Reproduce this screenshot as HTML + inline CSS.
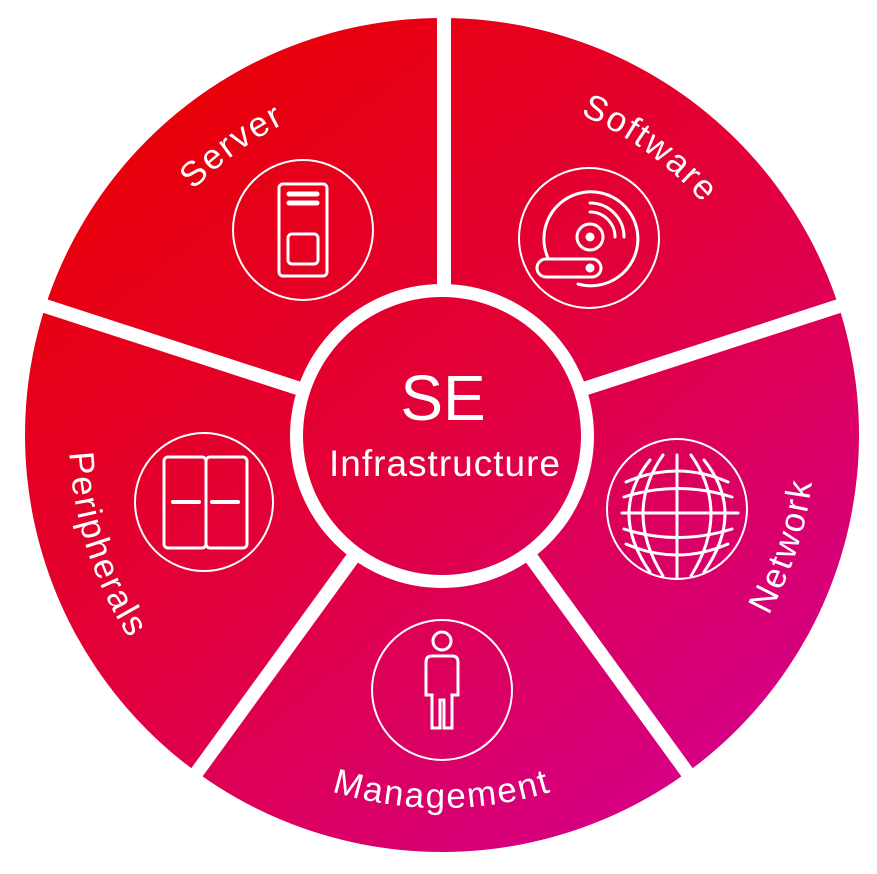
<!DOCTYPE html>
<html><head><meta charset="utf-8"><style>
html,body{margin:0;padding:0;background:#fff;width:877px;height:874px;overflow:hidden}
svg{display:block}
text{font-family:"Liberation Sans",sans-serif;fill:#fff}
</style></head><body>
<svg width="877" height="874" viewBox="0 0 877 874">
<defs>
<linearGradient id="g" gradientUnits="userSpaceOnUse" x1="180" y1="120" x2="720" y2="800">
<stop offset="0" stop-color="#e8000b"/>
<stop offset="0.45" stop-color="#e2003a"/>
<stop offset="1" stop-color="#d4008a"/>
</linearGradient>
<path id="cw" d="M791,435 A349,349 0 1 1 93,435 A349,349 0 1 1 791,435"/>
<path id="ccw" d="M815,435 A373,373 0 1 0 69,435 A373,373 0 1 0 815,435"/>
</defs>
<circle cx="442" cy="435" r="417" fill="url(#g)"/>
<g stroke="#fff" stroke-width="14">
<line x1="444" y1="435" x2="444" y2="0"/>
<line x1="442" y1="435" x2="442" y2="0" transform="rotate(72 442 435)"/>
<line x1="442" y1="435" x2="442" y2="0" transform="rotate(144 442 435)"/>
<line x1="442" y1="435" x2="442" y2="0" transform="rotate(216 442 435)"/>
<line x1="442" y1="435" x2="442" y2="0" transform="rotate(288 442 435)"/>
</g>
<circle cx="442" cy="436" r="152" fill="#fff"/>
<circle cx="442" cy="436" r="139" fill="url(#g)"/>
<text x="443" y="420" font-size="64" text-anchor="middle">SE</text>
<text x="445" y="476" font-size="37" text-anchor="middle" letter-spacing="1">Infrastructure</text>

<text font-size="35" letter-spacing="2"><textPath href="#cw" startOffset="65%" text-anchor="middle">Server</textPath></text>
<text font-size="35" letter-spacing="2"><textPath href="#cw" startOffset="85%" text-anchor="middle">Software</textPath></text>
<text font-size="35" letter-spacing="2"><textPath href="#ccw" startOffset="95%" text-anchor="middle">Network</textPath></text>
<text font-size="35" letter-spacing="2"><textPath href="#ccw" startOffset="75%" text-anchor="middle">Management</textPath></text>
<text font-size="35" letter-spacing="2"><textPath href="#ccw" startOffset="55%" text-anchor="middle">Peripherals</textPath></text>

<g fill="none" stroke="#fff" stroke-width="2">
<circle cx="303" cy="230" r="70"/>
<circle cx="589" cy="238" r="70"/>
<circle cx="677" cy="509" r="70"/>
<circle cx="442" cy="690" r="70"/>
<circle cx="204" cy="502" r="69"/>
</g>
<g fill="none" stroke="#fff" stroke-width="3" stroke-linecap="round">
<rect x="279" y="184" width="48" height="92" rx="4"/>
<line x1="289" y1="194" x2="317" y2="194" stroke-width="5"/>
<line x1="289" y1="203" x2="317" y2="203" stroke-width="5"/>
<rect x="288" y="234" width="30" height="30" rx="4"/>
<rect x="164" y="457" width="42" height="91" rx="4"/>
<rect x="206" y="457" width="41" height="91" rx="4"/>
<line x1="173" y1="502" x2="199" y2="502" stroke-width="4"/>
<line x1="212" y1="502" x2="238" y2="502" stroke-width="4"/>
<path d="M548,258 A47,47 0 1 1 578,284"/>
<circle cx="590" cy="237" r="13"/>
<circle cx="590" cy="237" r="3" fill="#fff"/>
<path d="M590,203 A34,34 0 0 1 624,237"/>
<path d="M590,212 A25,25 0 0 1 615,237"/>
<rect x="537" y="259" width="64" height="18" rx="9"/>
<circle cx="590" cy="268" r="3" fill="#fff"/>
<line x1="677" y1="455" x2="677" y2="578"/>
<line x1="622" y1="513" x2="738" y2="513"/>
<path d="M663,455 Q623,512 663,576"/>
<path d="M691,455 Q731,512 691,576"/>
<path d="M650,460 Q608,512 650,572"/>
<path d="M704,460 Q746,512 704,572"/>
<path d="M626,482 Q677,460 728,482"/>
<path d="M624,497 Q677,480 732,497"/>
<path d="M624,529 Q677,546 732,529"/>
<path d="M626,544 Q677,566 728,544"/>
<circle cx="442" cy="641" r="9"/>
<path d="M432,656 H452 Q458,656 458,662 V695 H452 V728 H444 V700 H440 V728 H432 V695 H426 V662 Q426,656 432,656 Z"/>
</g>
</svg>
</body></html>
